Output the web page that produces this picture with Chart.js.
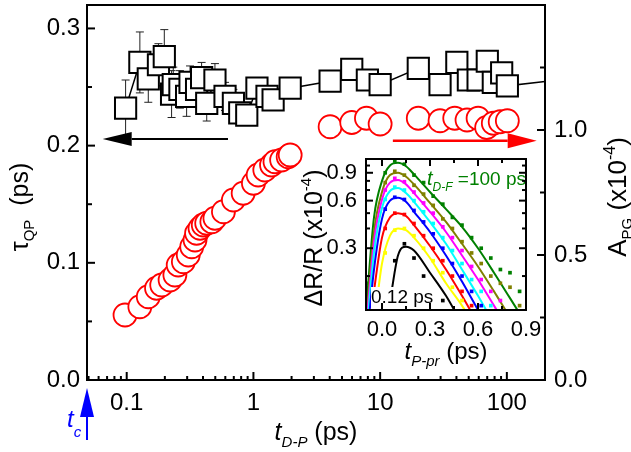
<!DOCTYPE html>
<html>
<head>
<meta charset="utf-8">
<script src="https://cdn.jsdelivr.net/npm/chart.js@4.4.1/dist/chart.umd.min.js"></script>
<style>
  html, body { margin: 0; padding: 0; background: #fff; }
  #wrap { position: relative; width: 631px; height: 452px; }
  #mainChart { position: absolute; left: 0; top: 0; }
  #insetChart { position: absolute; left: 290px; top: 150px; }
</style>
</head>
<body>
<div id="wrap">
  <canvas id="mainChart" width="631" height="452"></canvas>
  <canvas id="insetChart" width="262" height="225"></canvas>
</div>
<script>
const FONT = '"Liberation Sans", Arial, sans-serif';

// main panel: tau_QP (left axis) vs t_D-P
const tauDelay = [0.098, 0.127, 0.148, 0.178, 0.198, 0.226, 0.233, 0.263, 0.297, 0.316, 0.356, 0.39,
  0.428, 0.497, 0.597, 0.695, 0.78, 0.886, 1.066, 1.28, 1.43, 1.95, 4.03, 5.97, 7.93, 10,
  20, 29.7, 40.3, 49.7, 59.3, 70.1, 78.2, 91, 100.9, 300];
const tauQP = [0.232, 0.271, 0.257, 0.269, 0.276, 0.244, 0.252, 0.248, 0.242, 0.254, 0.248, 0.258,
  0.236, 0.256, 0.242, 0.236, 0.228, 0.226, 0.249, 0.242, 0.239, 0.249, 0.255, 0.265, 0.256, 0.252,
  0.266, 0.252, 0.271, 0.256, 0.256, 0.272, 0.254, 0.262, 0.251, 0.257];
const tauErr = [0.024, 0.026, 0.02, 0.018, 0.023, 0.02, 0.015, 0.016, 0.017, 0.014, 0.015, 0.013,
  0.015, 0.014, 0.012, 0.012, 0.01, 0.008, 0.006, 0.006, 0.005, 0.004, 0.004, 0.004, 0.004, 0.004,
  0.004, 0.004, 0.004, 0.004, 0.004, 0.004, 0.004, 0.004, 0.004, 0];

// main panel: A_PG (right axis) vs t_D-P
const pgDelay = [0.097, 0.127, 0.148, 0.172, 0.189, 0.22, 0.24, 0.255, 0.28, 0.306, 0.326, 0.346,
  0.356, 0.379, 0.402, 0.428, 0.47, 0.497, 0.58, 0.695, 0.83, 1.0, 1.09, 1.23, 1.39, 1.48, 1.67,
  1.88, 1.95, 4.03, 5.97, 7.8, 10, 20, 29.7, 38.8, 48.5, 59.3, 69.3, 78.2, 88.6, 100.9];
const pgAmp = [0.26, 0.293, 0.333, 0.367, 0.38, 0.4, 0.42, 0.46, 0.473, 0.5, 0.533, 0.56,
  0.587, 0.607, 0.62, 0.627, 0.633, 0.647, 0.673, 0.72, 0.747, 0.787, 0.82, 0.84, 0.86, 0.873, 0.88,
  0.893, 0.9, 1.013, 1.03, 1.047, 1.024, 1.047, 1.037, 1.047, 1.04, 1.047, 1.01, 1.027, 1.033, 1.037];

const xTickVals = [0.1, 1, 10, 100];
const yTickVals = [0, 0.1, 0.2, 0.3];
const y1TickVals = [0, 0.5, 1.0];

// inset: dR/R vs t_P-pr
const fitX = [-0.1, -0.05, 0, 0.05, 0.1, 0.15, 0.2, 0.3, 0.4, 0.5, 0.6, 0.7, 0.8, 0.9];
const fitGreen = [0.12, 0.47, 0.80, 1.00, 1.04, 0.99, 0.88, 0.68, 0.53, 0.41, 0.30, 0.21, 0.145, 0.10];
const fitOlive = [0.10, 0.38, 0.68, 0.87, 0.90, 0.85, 0.76, 0.58, 0.44, 0.32, 0.23, 0.16, 0.11, 0.08];
const fitMagenta = [0.09, 0.33, 0.61, 0.78, 0.81, 0.76, 0.67, 0.51, 0.38, 0.27, 0.19, 0.13, 0.09, 0.07];
const fitCyan = [0.08, 0.28, 0.54, 0.69, 0.72, 0.67, 0.59, 0.44, 0.32, 0.22, 0.15, 0.10, 0.07, 0.05];
const fitBlue = [0.07, 0.22, 0.46, 0.60, 0.625, 0.59, 0.51, 0.38, 0.27, 0.185, 0.122, 0.08, 0.06, 0.05];
const fitRed = [0.06, 0.16, 0.35, 0.47, 0.50, 0.48, 0.42, 0.31, 0.22, 0.15, 0.10, 0.07, 0.05, 0.04];
const fitYellow = [0.05, 0.10, 0.24, 0.36, 0.40, 0.39, 0.35, 0.26, 0.18, 0.13, 0.09, 0.06, 0.05, 0.04];
const fitBlack = [0.03, 0.04, 0.08, 0.14, 0.27, 0.307, 0.29, 0.21, 0.15, 0.10, 0.07, 0.05, 0.04, 0.03];

const dotX = [-0.1, 0.02, 0.08, 0.14, 0.2, 0.26, 0.32, 0.38, 0.44, 0.5, 0.56, 0.62, 0.68, 0.74, 0.8, 0.86];
const dotGreen = [0.18, 0.9, 1.07, 1.02, 0.87, 0.78, 0.64, 0.57, 0.47, 0.42, 0.35, 0.30, 0.26, 0.22, 0.21, 0.16];
const dotOlive = [0.14, 0.78, 0.92, 0.87, 0.75, 0.66, 0.56, 0.46, 0.40, 0.33, 0.28, 0.24, 0.20, 0.18, 0.17, 0.13];
const dotMagenta = [0.09, 0.70, 0.83, 0.79, 0.68, 0.58, 0.50, 0.41, 0.35, 0.29, 0.23, 0.19, 0.16, 0.14, 0.12, 0.10];
const dotCyan = [0.08, 0.61, 0.73, 0.70, 0.60, 0.51, 0.43, 0.35, 0.29, 0.24, 0.19, 0.16, 0.13, 0.11, 0.1, 0.09];
const dotBlue = [0.07, 0.53, 0.63, 0.61, 0.52, 0.44, 0.37, 0.30, 0.24, 0.20, 0.16, 0.13, 0.11, 0.09, 0.08, 0.07];
const dotRed = [0.06, 0.40, 0.50, 0.49, 0.43, 0.36, 0.30, 0.25, 0.20, 0.16, 0.13, 0.11, 0.09, 0.08, 0.07, 0.06];
const dotYellow = [0.05, 0.28, 0.39, 0.40, 0.36, 0.30, 0.25, 0.21, 0.17, 0.14, 0.12, 0.1, 0.09, 0.08, 0.07, 0.06];
const dotBlack = [0.04, 0.09, 0.25, 0.32, 0.26, 0.20, 0.16, 0.14, 0.12, 0.1, 0.08, 0.07, 0.06, 0.05, 0.05, 0.04];

const insetXTicks = [0, 0.3, 0.6, 0.9];
const insetYTicks = [0.3, 0.6, 0.9];

const insetSeries = [
  { color: '#000000', fit: fitBlack, dots: dotBlack },
  { color: '#ffff00', fit: fitYellow, dots: dotYellow },
  { color: '#ff0000', fit: fitRed, dots: dotRed },
  { color: '#0000ff', fit: fitBlue, dots: dotBlue },
  { color: '#00ffff', fit: fitCyan, dots: dotCyan },
  { color: '#ff00ff', fit: fitMagenta, dots: dotMagenta },
  { color: '#808000', fit: fitOlive, dots: dotOlive },
  { color: '#008000', fit: fitGreen, dots: dotGreen },
];

function richText(ctx, parts, x, y, align) {
  let w = 0;
  parts.forEach(p => { ctx.font = p.font; w += ctx.measureText(p.text).width; });
  let cx = align === 'center' ? x - w / 2 : x;
  ctx.textAlign = 'left';
  ctx.textBaseline = 'alphabetic';
  parts.forEach(p => {
    ctx.font = p.font;
    ctx.fillText(p.text, cx, y + (p.dy || 0));
    cx += ctx.measureText(p.text).width;
  });
}

function arrow(ctx, x1, y1, x2, y2, headLen, headHalf, color, lw) {
  const ang = Math.atan2(y2 - y1, x2 - x1);
  const bx = x2 - headLen * Math.cos(ang), by = y2 - headLen * Math.sin(ang);
  ctx.save();
  ctx.strokeStyle = color; ctx.fillStyle = color; ctx.lineWidth = lw;
  ctx.beginPath(); ctx.moveTo(x1, y1); ctx.lineTo(bx, by); ctx.stroke();
  ctx.beginPath();
  ctx.moveTo(x2, y2);
  ctx.lineTo(bx + headHalf * Math.sin(ang), by - headHalf * Math.cos(ang));
  ctx.lineTo(bx - headHalf * Math.sin(ang), by + headHalf * Math.cos(ang));
  ctx.closePath(); ctx.fill();
  ctx.restore();
}

function tickLine(ctx, x1, y1, x2, y2) {
  ctx.beginPath(); ctx.moveTo(x1, y1); ctx.lineTo(x2, y2); ctx.stroke();
}

// fixed axis box sizes, no extra label padding
function fixBox(size) {
  return s => {
    if (s.isHorizontal()) s.height = size; else s.width = size;
    s.paddingTop = 0; s.paddingBottom = 0; s.paddingLeft = 0; s.paddingRight = 0;
  };
}

const mainDecor = {
  id: 'mainDecor',
  beforeDatasetsDraw(chart) {
    const { ctx, scales: { x, y } } = chart;
    ctx.save();
    ctx.strokeStyle = '#222';
    ctx.lineWidth = 1;
    tauDelay.forEach((t, i) => {
      if (!tauErr[i]) return;
      const px = x.getPixelForValue(t);
      const top = y.getPixelForValue(tauQP[i] + tauErr[i]);
      const bot = y.getPixelForValue(tauQP[i] - tauErr[i]);
      tickLine(ctx, px, top, px, bot);
      tickLine(ctx, px - 4, top, px + 4, top);
      tickLine(ctx, px - 4, bot, px + 4, bot);
    });
    ctx.restore();
  },
  afterDatasetsDraw(chart) {
    const { ctx, scales: { x, y, y1 } } = chart;
    arrow(ctx, x.getPixelForValue(0.63), y.getPixelForValue(0.2057),
      x.getPixelForValue(0.0646), y.getPixelForValue(0.2057), 29, 7, '#000', 2);
    arrow(ctx, x.getPixelForValue(12.6), y1.getPixelForValue(0.957),
      x.getPixelForValue(172), y1.getPixelForValue(0.957), 29, 7.5, '#ff0000', 2.5);
  },
  afterDraw(chart) {
    const { ctx, chartArea: a, scales: { x, y, y1 } } = chart;
    ctx.save();
    ctx.strokeStyle = '#000';
    ctx.lineWidth = 2;
    ctx.strokeRect(a.left, a.top, a.right - a.left, a.bottom - a.top);
    // inward ticks
    for (let v = 0; v <= 0.3001; v += 0.05) {
      const py = y.getPixelForValue(v);
      const major = Math.abs(v * 10 - Math.round(v * 10)) < 1e-6;
      tickLine(ctx, a.left, py, a.left + (major ? 8 : 5), py);
    }
    for (let v = 0; v <= 1.5001; v += 0.25) {
      const py = y1.getPixelForValue(v);
      const major = Math.abs(v * 2 - Math.round(v * 2)) < 1e-6;
      tickLine(ctx, a.right, py, a.right - (major ? 8 : 5), py);
    }
    [0.01, 0.1, 1, 10, 100].forEach(d => {
      for (let m = 1; m <= 9; m++) {
        const v = m * d;
        if (v < x.min || v > x.max) continue;
        const px = x.getPixelForValue(v);
        tickLine(ctx, px, a.bottom, px, a.bottom - (m === 1 ? 8 : 4));
      }
    });
    ctx.restore();

    // axis titles
    ctx.save();
    ctx.fillStyle = '#000';
    richText(ctx, [
      { text: 't', font: 'italic 25px ' + FONT },
      { text: 'D-P', font: 'italic 15px ' + FONT, dy: 7 },
      { text: ' (ps)', font: '25px ' + FONT },
    ], (a.left + a.right) / 2, 440, 'center');

    ctx.save();
    ctx.translate(28, 207);
    ctx.rotate(-Math.PI / 2);
    richText(ctx, [
      { text: '\u03c4', font: '25px ' + FONT },
      { text: 'QP', font: '15px ' + FONT, dy: 6 },
      { text: '  (ps)', font: '25px ' + FONT },
    ], 0, 0, 'center');
    ctx.restore();

    ctx.save();
    ctx.translate(626, 197);
    ctx.rotate(-Math.PI / 2);
    richText(ctx, [
      { text: 'A', font: '26px ' + FONT },
      { text: 'PG', font: '15px ' + FONT, dy: 6 },
      { text: ' (x10', font: '26px ' + FONT },
      { text: '-4', font: '16px ' + FONT, dy: -11 },
      { text: ')', font: '26px ' + FONT },
    ], 0, 0, 'center');
    ctx.restore();

    // t_c marker under the axis origin
    const cx = a.left;
    arrow(ctx, cx, 440, cx, a.bottom + 8, 29, 7, '#0000ff', 2);
    ctx.fillStyle = '#0000ff';
    richText(ctx, [
      { text: 't', font: 'italic 24px ' + FONT },
      { text: 'c', font: 'italic 15px ' + FONT, dy: 10 },
    ], cx - 20, 427, 'left');
    ctx.restore();
  },
};

new Chart(document.getElementById('mainChart'), {
  type: 'scatter',
  data: {
    datasets: [
      {
        label: 'tauQP',
        data: tauDelay.map((t, i) => ({ x: t, y: tauQP[i] })),
        yAxisID: 'y',
        showLine: true,
        borderColor: '#000',
        borderWidth: 1.5,
        pointStyle: 'rect',
        pointRadius: 15,
        pointBorderWidth: 2,
        pointBorderColor: '#000',
        pointBackgroundColor: '#fff',
      },
      {
        label: 'APG',
        data: pgDelay.map((t, i) => ({ x: t, y: pgAmp[i] })),
        yAxisID: 'y1',
        pointRadius: 11.5,
        pointBorderWidth: 1.8,
        pointBorderColor: '#ff0000',
        pointBackgroundColor: '#fff',
      },
    ],
  },
  options: {
    responsive: false,
    animation: false,
    layout: { autoPadding: false, padding: { top: 5, left: 0, right: 0, bottom: 0 } },
    plugins: { legend: { display: false }, tooltip: { enabled: false } },
    scales: {
      x: {
        type: 'logarithmic',
        position: 'bottom',
        min: 0.0486,
        max: 200,
        grid: { display: false, drawTicks: false },
        border: { display: false },
        afterBuildTicks: s => { s.ticks = xTickVals.map(v => ({ value: v })); },
        afterFit: fixBox(72),
        ticks: {
          autoSkip: false, maxRotation: 0, minRotation: 0, padding: 9,
          color: '#000', font: { family: FONT, size: 24 },
          callback: v => String(v),
        },
      },
      y: {
        type: 'linear',
        position: 'left',
        min: 0,
        max: 0.32,
        grid: { display: false, drawTicks: false },
        border: { display: false },
        afterBuildTicks: s => { s.ticks = yTickVals.map(v => ({ value: v })); },
        afterFit: fixBox(87),
        ticks: { padding: 7, color: '#000', font: { family: FONT, size: 24 }, callback: v => v.toFixed(1) },
      },
      y1: {
        type: 'linear',
        position: 'right',
        min: 0,
        max: 1.5,
        grid: { display: false, drawTicks: false },
        border: { display: false },
        afterBuildTicks: s => { s.ticks = y1TickVals.map(v => ({ value: v })); },
        afterFit: fixBox(86),
        ticks: { padding: 9, color: '#000', font: { family: FONT, size: 24 }, callback: v => v.toFixed(1) },
      },
    },
  },
  plugins: [mainDecor],
});

const insetDecor = {
  id: 'insetDecor',
  afterDatasetsDraw(chart) {
    const { ctx, chartArea: a } = chart;
    ctx.save();
    ctx.fillStyle = '#fff';
    ctx.fillRect(a.left + 5, a.top + 128, 66, 22);
    ctx.fillStyle = '#000';
    ctx.font = '19px ' + FONT;
    ctx.textAlign = 'left';
    ctx.textBaseline = 'alphabetic';
    ctx.fillText('0.12 ps', a.left + 5, a.top + 144);
    ctx.fillStyle = '#008000';
    richText(ctx, [
      { text: 't', font: 'italic 20px ' + FONT },
      { text: 'D-F', font: 'italic 12px ' + FONT, dy: 6 },
      { text: ' =100 ps', font: '19px ' + FONT },
    ], a.left + 61, a.top + 26, 'left');
    ctx.restore();
  },
  afterDraw(chart) {
    const { ctx, chartArea: a, scales: { x, y } } = chart;
    ctx.save();
    ctx.strokeStyle = '#000';
    ctx.lineWidth = 2;
    ctx.strokeRect(a.left, a.top, a.right - a.left, a.bottom - a.top);
    [-0.15, 0, 0.15, 0.3, 0.45, 0.6, 0.75, 0.9].forEach(v => {
      if (v < x.min || v > x.max) return;
      const px = x.getPixelForValue(v);
      const len = insetXTicks.includes(v) ? 7 : 4;
      tickLine(ctx, px, a.bottom, px, a.bottom - len);
      tickLine(ctx, px, a.top, px, a.top + len);
    });
    [0.2, 0.3, 0.4, 0.5, 0.6, 0.7, 0.8, 0.9, 1.0].forEach(v => {
      const py = y.getPixelForValue(v);
      const len = insetYTicks.includes(v) ? 7 : 4;
      tickLine(ctx, a.left, py, a.left + len, py);
      tickLine(ctx, a.right, py, a.right - len, py);
    });
    ctx.fillStyle = '#000';
    richText(ctx, [
      { text: 't', font: 'italic 24px ' + FONT },
      { text: 'P-pr', font: 'italic 15px ' + FONT, dy: 7 },
      { text: ' (ps)', font: '24px ' + FONT },
    ], (a.left + a.right) / 2, 209, 'center');
    ctx.save();
    ctx.translate(32, 88);
    ctx.rotate(-Math.PI / 2);
    richText(ctx, [
      { text: '\u0394R/R (x10', font: '25px ' + FONT },
      { text: '-4', font: '15px ' + FONT, dy: -11 },
      { text: ')', font: '25px ' + FONT },
    ], 0, 0, 'center');
    ctx.restore();
    ctx.restore();
  },
};

const insetDatasets = [];
insetSeries.forEach(s => {
  insetDatasets.push({
    data: fitX.map((t, i) => ({ x: t, y: s.fit[i] })),
    showLine: true,
    borderColor: s.color,
    borderWidth: 2,
    pointRadius: 0,
    cubicInterpolationMode: 'monotone',
    clip: 0,
  });
  insetDatasets.push({
    data: dotX.map((t, i) => ({ x: t, y: s.dots[i] })),
    pointStyle: 'rect',
    pointRadius: 2.6,
    pointBorderWidth: 0,
    pointBackgroundColor: s.color,
    pointBorderColor: s.color,
    clip: 0,
  });
});

new Chart(document.getElementById('insetChart'), {
  type: 'scatter',
  data: { datasets: insetDatasets },
  options: {
    responsive: false,
    animation: false,
    layout: { autoPadding: false, padding: { top: 9, right: 26, left: 0, bottom: 0 } },
    plugins: { legend: { display: false }, tooltip: { enabled: false } },
    scales: {
      x: {
        type: 'linear',
        min: -0.1,
        max: 0.9,
        grid: { display: false, drawTicks: false },
        border: { display: false },
        afterBuildTicks: s => { s.ticks = insetXTicks.map(v => ({ value: v })); },
        afterFit: fixBox(65),
        ticks: {
          autoSkip: false, maxRotation: 0, minRotation: 0, padding: 7,
          color: '#000', font: { family: FONT, size: 22 }, callback: v => v.toFixed(1),
        },
      },
      y: {
        type: 'logarithmic',
        min: 0.122,
        max: 1.1,
        grid: { display: false, drawTicks: false },
        border: { display: false },
        afterBuildTicks: s => { s.ticks = insetYTicks.map(v => ({ value: v })); },
        afterFit: fixBox(76),
        ticks: { padding: 9, color: '#000', font: { family: FONT, size: 22 }, callback: v => v.toFixed(1) },
      },
    },
  },
  plugins: [insetDecor],
});
</script>
</body>
</html>
